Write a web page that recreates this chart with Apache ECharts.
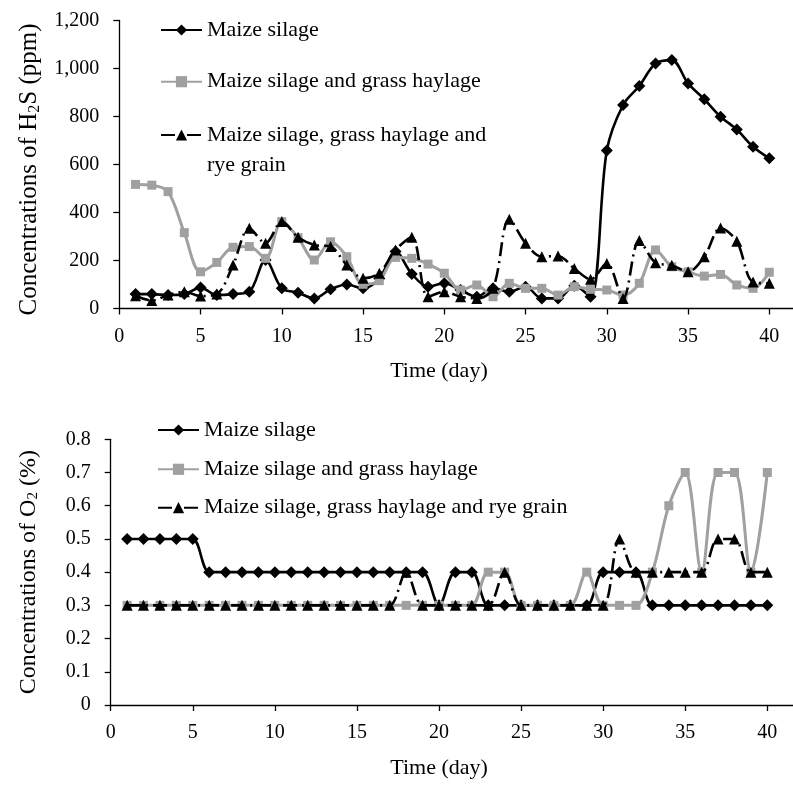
<!DOCTYPE html>
<html><head><meta charset="utf-8">
<script src="https://cdn.jsdelivr.net/npm/echarts@6/dist/echarts.min.js"></script>
<style>html,body{margin:0;padding:0;background:#fff}#c{width:793px;height:785px}</style>
</head><body><div id="c"></div>
<script>
// ---- data ----
const days = [1,2,3,4,5,6,7,8,9,10,11,12,13,14,15,16,17,18,19,20,21,22,23,24,25,26,27,28,29,30,31,32,33,34,35,36,37,38,39,40];
const seriesNames = ['Maize silage', 'Maize silage and grass haylage', 'Maize silage, grass haylage and rye grain'];
// H2S (ppm)
const h2sMaize = [60,60,56,60,87,56,60,70,202,84,66,42,80,100,84,125,237,144,91,105,77,49,84,70,91,42,42,95,49,658,848,927,1021,1035,938,872,799,746,674,626];
const h2sGrass = [517,514,487,316,153,192,255,258,209,362,295,202,278,216,101,116,213,209,185,147,77,98,49,105,84,84,56,91,80,77,56,105,244,174,153,135,142,98,84,151];
const h2sRye   = [53,33,56,70,52,60,181,334,272,362,297,265,258,181,126,147,244,297,49,70,49,42,84,372,272,216,219,167,122,188,42,283,191,180,153,216,335,280,110,105];
// O2 (%)
const o2Maize = [0.5,0.5,0.5,0.5,0.5,0.4,0.4,0.4,0.4,0.4,0.4,0.4,0.4,0.4,0.4,0.4,0.4,0.4,0.4,0.3,0.4,0.4,0.3,0.3,0.3,0.3,0.3,0.3,0.3,0.4,0.4,0.4,0.3,0.3,0.3,0.3,0.3,0.3,0.3,0.3];
const o2Grass = [0.3,0.3,0.3,0.3,0.3,0.3,0.3,0.3,0.3,0.3,0.3,0.3,0.3,0.3,0.3,0.3,0.3,0.3,0.3,0.3,0.3,0.3,0.4,0.4,0.3,0.3,0.3,0.3,0.4,0.3,0.3,0.3,0.4,0.6,0.7,0.4,0.7,0.7,0.4,0.7];
const o2Rye   = [0.3,0.3,0.3,0.3,0.3,0.3,0.3,0.3,0.3,0.3,0.3,0.3,0.3,0.3,0.3,0.3,0.3,0.4,0.3,0.3,0.3,0.3,0.3,0.4,0.3,0.3,0.3,0.3,0.3,0.3,0.5,0.4,0.4,0.4,0.4,0.4,0.5,0.5,0.4,0.4];
const xTicks = {min: 0, max: 45, interval: 5};
const yTicksH2S = {min: 0, max: 1200, interval: 200};
const yTicksO2 = {min: 0, max: 0.8, interval: 0.1};

// ---- chart ----
const FONT = 'Liberation Serif';
const chart = echarts.init(document.getElementById('c'));
const pairs = (vals) => days.map((d, i) => [d, vals[i]]);
const styles = [
  {symbol: 'diamond', symbolSize: 12, itemStyle: {color: '#000'}, lineStyle: {color: '#000', width: 2.6}},
  {symbol: 'rect', symbolSize: 9, itemStyle: {color: '#a0a0a0'}, lineStyle: {color: '#a0a0a0', width: 3}},
  {symbol: 'triangle', symbolSize: 11, itemStyle: {color: '#000'}, lineStyle: {color: '#000', width: 2.6, type: [14, 5, 2, 5]}}
];
function mkSeries(idx, vals, g) {
  return Object.assign({
    type: 'line', name: seriesNames[idx], xAxisIndex: g, yAxisIndex: g,
    data: pairs(vals), smooth: 0.33, showSymbol: true, animation: false, z: 2 + idx
  }, JSON.parse(JSON.stringify(styles[idx])));
}
const axisCommon = {
  axisLine: {show: true, lineStyle: {color: '#000', width: 1.3}},
  axisTick: {show: true, length: 6, lineStyle: {color: '#000', width: 1.3}},
  splitLine: {show: false}
};
function xAx(g, padRight) {
  return Object.assign({
    gridIndex: g, type: 'value', min: xTicks.min, max: xTicks.max, interval: xTicks.interval,
    name: 'Time (day)', nameLocation: 'middle', nameGap: 52,
    nameTextStyle: {fontFamily: FONT, fontSize: 22, color: '#000', padding: [0, padRight, 0, 0]},
    axisLabel: {fontFamily: FONT, fontSize: 20, color: '#000', margin: 18}
  }, axisCommon);
}
function legendItem(name, left, top, fmt) {
  const l = {
    data: [name], left: left, top: top, orient: 'vertical', padding: 0,
    itemWidth: 41, itemHeight: 14, selectedMode: false,
    textStyle: {fontFamily: FONT, fontSize: 22, color: '#000', lineHeight: 30}
  };
  if (fmt) l.formatter = fmt;
  return l;
}
const option = {
  backgroundColor: '#fff',
  animation: false,
  grid: [
    {left: 119.3, top: 20.5, width: 45 * 16.25, height: 288, containLabel: false, outerBoundsMode: 'none'},
    {left: 110.7, top: 439.3, width: 45 * 16.415, height: 265.7, containLabel: false, outerBoundsMode: 'none'}
  ],
  xAxis: [xAx(0, 92), xAx(1, 82)],
  yAxis: [
    Object.assign({
      gridIndex: 0, type: 'value', min: yTicksH2S.min, max: yTicksH2S.max, interval: yTicksH2S.interval,
      name: 'Concentrations of H{s|2}S (ppm)', nameLocation: 'middle', nameGap: 77, nameRotate: 90,
      nameTextStyle: {fontFamily: FONT, fontSize: 25, color: '#000', padding: [0, 10, 0, 0],
        rich: {s: {fontFamily: FONT, fontSize: 16, color: '#000', verticalAlign: 'bottom'}}},
      axisLabel: {fontFamily: FONT, fontSize: 20, color: '#000', margin: 20,
        formatter: (v) => v.toLocaleString('en-US')}
    }, axisCommon),
    Object.assign({
      gridIndex: 1, type: 'value', min: yTicksO2.min, max: yTicksO2.max, interval: yTicksO2.interval,
      name: 'Concentrations of O{s|2} (%)', nameLocation: 'middle', nameGap: 70, nameRotate: 90,
      nameTextStyle: {fontFamily: FONT, fontSize: 24, color: '#000',
        rich: {s: {fontFamily: FONT, fontSize: 15, color: '#000', verticalAlign: 'bottom'}}},
      axisLabel: {fontFamily: FONT, fontSize: 20, color: '#000', margin: 20,
        formatter: (v) => v === 0 ? '0' : v.toFixed(1)}
    }, axisCommon)
  ],
  legend: [
    legendItem(seriesNames[0], 160, 15),
    legendItem(seriesNames[1], 160, 66.7),
    legendItem(seriesNames[2], 160, 90, () => '\nMaize silage, grass haylage and\nrye grain'),
    legendItem(seriesNames[0], 157, 415),
    legendItem(seriesNames[1], 157, 454.3),
    legendItem(seriesNames[2], 157, 492.7)
  ],
  series: [
    mkSeries(0, h2sMaize, 0), mkSeries(1, h2sGrass, 0), mkSeries(2, h2sRye, 0),
    mkSeries(0, o2Maize, 1), mkSeries(1, o2Grass, 1), mkSeries(2, o2Rye, 1)
  ]
};
chart.setOption(option);
</script>
</body></html>
